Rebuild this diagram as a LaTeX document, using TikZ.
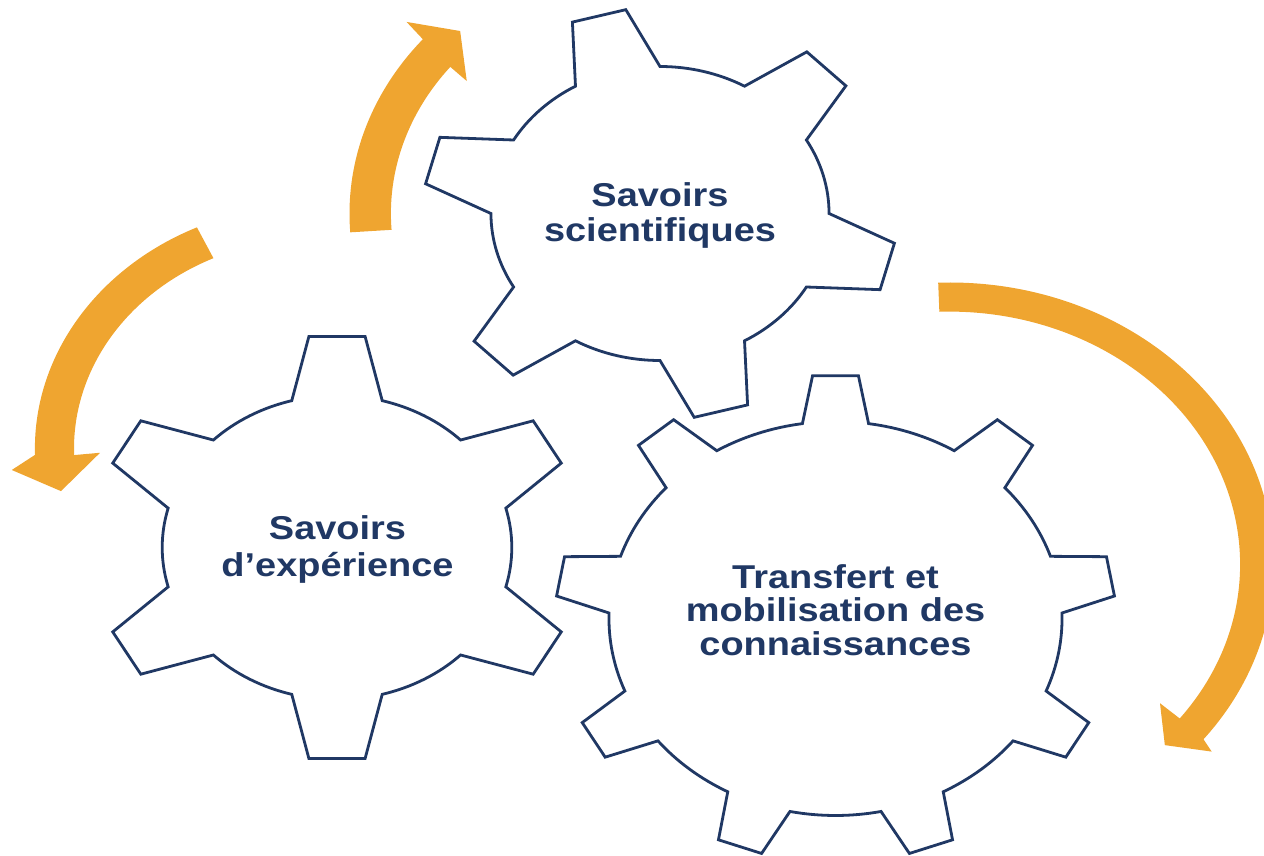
\documentclass[tikz,border=0pt]{standalone}
\usepackage{fontspec}
\setmainfont{Liberation Sans}[FakeStretch=1.15]
\definecolor{navy}{RGB}{32,56,100}
\definecolor{gold}{RGB}{239,165,48}
\tikzset{
  gear/.style={draw=navy, fill=white, line width=2.8pt, line join=miter},
  arr/.style={fill=gold, draw=none},
  lab/.style={text=navy, font=\fontsize{33}{34}\selectfont\bfseries, inner sep=0pt, anchor=base},
}
% #1 cx, #2 cy (pixels, downwards), #3 teeth, #4 rotation, #5 inner r, #6 outer r, #7 base half angle, #8 tip half angle
\newcommand\mygear[8]{%
 \begin{scope}[shift={(#1,-#2)},xscale=1.15]
  \pgfmathsetmacro\gstep{360/#3}
  \path[gear] ({#4-#7}:#5)
   \foreach \k in {1,...,#3}{
    -- ({#4+(\k-1)*\gstep-#8}:#6) -- ({#4+(\k-1)*\gstep+#8}:#6) -- ({#4+(\k-1)*\gstep+#7}:#5)
    arc[start angle={#4+(\k-1)*\gstep+#7}, end angle={#4+\k*\gstep-#7}, radius=#5]
   } -- cycle;
 \end{scope}}
\begin{document}
\begin{tikzpicture}[x=1pt,y=1pt]
\useasboundingbox (0,0) rectangle (1264,-856);
\clip (0,0) rectangle (1264,-856);
% arrows
\begin{scope}[shift={(660,-213.5)},xscale=1.15]
\fill[arr] (184:270) arc[start angle=184,end angle=139.8,radius=270] -- (139.0:292) -- (133.6:252) -- (141.75:214) -- (141.2:234) arc[start angle=141.2,end angle=184,radius=234] -- cycle;
\end{scope}
\begin{scope}[shift={(315.5,-448.5)},xscale=1.15]
\fill[arr] (115:244) arc[start angle=115,end angle=181.5,radius=244] -- (184.65:265) -- (190.9:225.4) -- (181.3:187.4) -- (181.8:210) arc[start angle=181.8,end angle=115,radius=210] -- cycle;
\end{scope}
\begin{scope}[shift={(949.5,-564.3)},xscale=1.15]
\fill[arr] (92:281.8) arc[start angle=92,end angle=-38.4,radius=281.8] -- (-39.4:295.1) -- (-44:260.3) -- (-37.2:229.8) -- (-37.6:252.7) arc[start angle=-37.6,end angle=92,radius=252.7] -- cycle;
\end{scope}
% gears
\mygear{660}{213.5}{6}{105}{147}{206}{15}{6.7}
\mygear{337}{547.5}{6}{90}{152}{212.5}{15}{6.6}
\mygear{835.5}{618.5}{9}{90}{197}{243.6}{8.4}{4.7}
% labels
\node[lab] (t1a) at (660,-206) {Savoirs};
\node[lab] (t1b) at (660,-241) {scientifiques};
\node[lab] (t2a) at (337.5,-539.5) {Savoirs};
\node[lab] (t2b) at (337.5,-576) {d’expérience};
\node[lab] (t3a) at (835.5,-588.3) {Transfert et};
\node[lab] (t3b) at (835.5,-621.7) {mobilisation des};
\node[lab] (t3c) at (835.5,-655) {connaissances};
\end{tikzpicture}
\end{document}
